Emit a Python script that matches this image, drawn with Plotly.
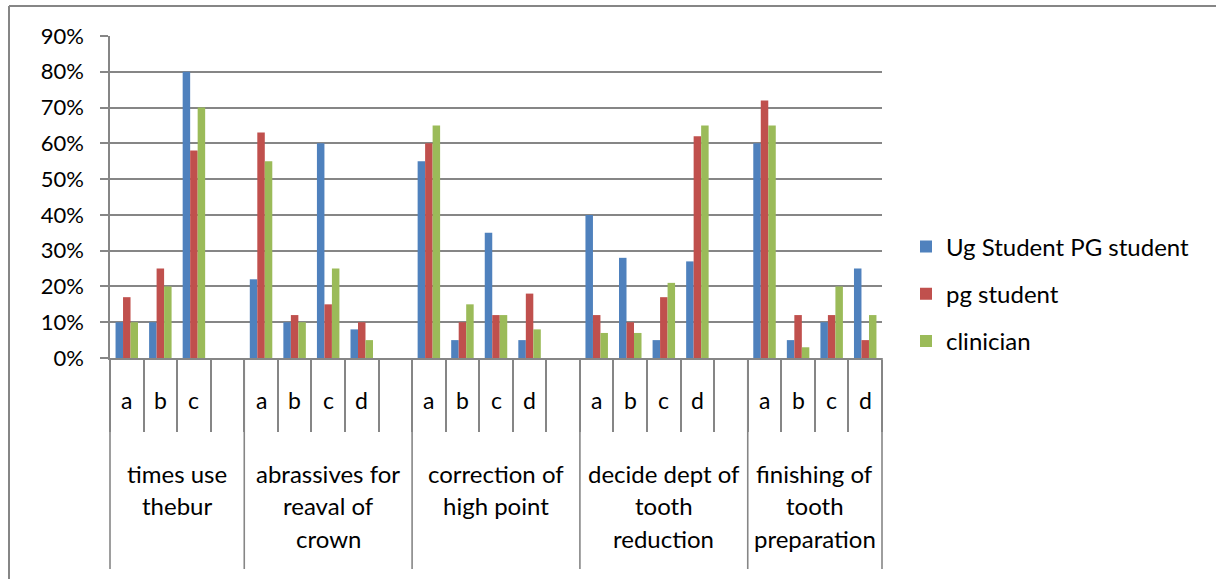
import plotly.graph_objects as go

# ---------------- data ----------------
groups = [
    "times use<br>thebur",
    "abrassives for<br>reaval of<br>crown",
    "correction of<br>high point",
    "decide dept of<br>tooth<br>reduction",
    "finishing of<br>tooth<br>preparation",
]
subcats = [
    ["a", "b", "c"],
    ["a", "b", "c", "d"],
    ["a", "b", "c", "d"],
    ["a", "b", "c", "d"],
    ["a", "b", "c", "d"],
]
series_names = ["Ug Student PG student", "pg student", "clinician"]
ug_student = [10, 10, 80, 22, 10, 60, 8, 55, 5, 35, 5, 40, 28, 5, 27, 60, 5, 10, 25]
pg_student = [17, 25, 58, 63, 12, 15, 10, 60, 10, 12, 18, 12, 10, 17, 62, 72, 12, 12, 5]
clinician = [10, 20, 70, 55, 10, 25, 5, 65, 15, 12, 8, 7, 7, 21, 65, 65, 3, 20, 12]
y_ticks = [0, 10, 20, 30, 40, 50, 60, 70, 80, 90]

colors = ["#4F81BD", "#C0504D", "#9BBB59"]
GRID = "#868686"
FONT = "Lato"
LW = 1.6

# build slots (Excel leaves an empty category after each group except the last)
keys, sub_of_key, group_slots = [], [], []
idx = 0
series_vals = [[], [], []]
all_series = [ug_student, pg_student, clinician]
for gi, g in enumerate(groups):
    start = len(keys)
    for s in subcats[gi]:
        keys.append(f"{gi}|{s}")
        sub_of_key.append(s)
        for k in range(3):
            series_vals[k].append(all_series[k][idx])
        idx += 1
    if gi < len(groups) - 1:
        keys.append(f"{gi}|blank")
        sub_of_key.append("")
        for k in range(3):
            series_vals[k].append(None)
    group_slots.append((start, len(keys) - 1))

fig = go.Figure()
for k in range(3):
    fig.add_trace(go.Bar(
        x=keys, y=series_vals[k], name=series_names[k],
        marker=dict(color=colors[k], line=dict(width=0)),
        legendgroup=f"g{k}",
    ))

W, H = 1216, 579
L, R, T, B = 110, 882, 36, 358
pw, ph = R - L, B - T

def py(pix):
    return (B - pix) / ph

def px(pix):
    return (pix - L) / pw

annotations = []
# sub category letters
for key, s in zip(keys, sub_of_key):
    if s:
        annotations.append(dict(x=key, y=py(400), xref="x", yref="paper", text=s,
                                showarrow=False, yanchor="middle", xanchor="center",
                                font=dict(family=FONT, size=23, color="black")))
# group labels
shapes = []
for gi, g in enumerate(groups):
    a, b = group_slots[gi]
    center = (a + b) / 2
    for li, line in enumerate(g.split("<br>")):
        annotations.append(dict(x=center, y=py(473 + li * 32.7), xref="x", yref="paper",
                                text=line, showarrow=False, yanchor="middle", xanchor="center",
                                font=dict(family=FONT, size=24, color="black")))
    if gi < len(groups) - 1:
        shapes.append(dict(type="line", xref="x", yref="paper", x0=b + 0.5, x1=b + 0.5,
                           y0=0, y1=py(569), line=dict(color=GRID, width=LW)))
for xd in (0, 1):
    shapes.append(dict(type="line", xref="x domain", yref="paper", x0=xd, x1=xd,
                       y0=0, y1=py(569), line=dict(color=GRID, width=LW)))
# outer chart frame (cropped Excel chart area)
shapes.append(dict(type="line", xref="paper", yref="paper", x0=px(9), x1=px(1216),
                   y0=py(6), y1=py(6), line=dict(color=GRID, width=2)))
shapes.append(dict(type="line", xref="paper", yref="paper", x0=px(9), x1=px(9),
                   y0=py(6), y1=py(579), line=dict(color=GRID, width=2)))

fig.update_layout(
    width=W, height=H,
    margin=dict(l=L, r=W - R, t=T, b=H - B, pad=0),
    paper_bgcolor="white", plot_bgcolor="white",
    barmode="group", bargap=0.33, bargroupgap=0,
    font=dict(family=FONT, size=23, color="black"),
    showlegend=True,
    legend=dict(x=px(906), y=py(294), xanchor="left", yanchor="middle",
                font=dict(family=FONT, size=24, color="black"),
                tracegroupgap=13, bgcolor="rgba(0,0,0,0)"),
    annotations=annotations,
    shapes=shapes,
)
fig.update_xaxes(
    type="category", categoryorder="array", categoryarray=keys,
    showticklabels=False, tickson="boundaries", ticks="outside", ticklen=72,
    tickwidth=LW, tickcolor=GRID, showline=True, linecolor=GRID, linewidth=LW,
    showgrid=False, zeroline=False,
)
fig.update_yaxes(
    range=[0, 90], tickvals=y_ticks, ticktext=[f"{v}%" for v in y_ticks],
    showgrid=True, gridcolor=GRID, gridwidth=LW,
    ticks="outside", ticklen=8, tickwidth=LW, tickcolor=GRID,
    showline=True, linecolor=GRID, linewidth=LW, zeroline=False,
    ticklabelstandoff=12,
    tickfont=dict(family=FONT, size=22, color="black"),
)

fig.write_html("out.html", config={"displayModeBar": False},
               post_script="document.body.style.margin='0';")
